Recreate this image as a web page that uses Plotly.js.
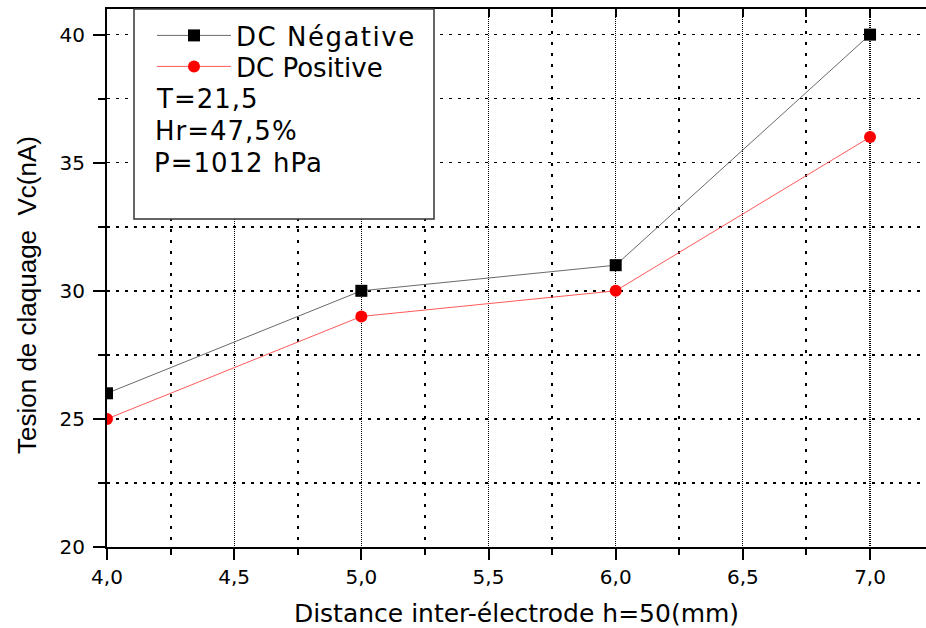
<!DOCTYPE html>
<html>
<head>
<meta charset="utf-8">
<script src="https://cdn.plot.ly/plotly-3.0.1.min.js"></script>
<style>
html,body{margin:0;padding:0;background:#fff;}
#chart{width:926px;height:628px;}
.legendtext{letter-spacing:1.5px;}
.annotation-text.cond{letter-spacing:1px;}
</style>
</head>
<body>
<div id="chart"></div>
<script>
// Data
const distance = [4.0, 5.0, 6.0, 7.0];
const dcNegative = [26, 30, 31, 40];
const dcPositive = [25, 29, 30, 36];
const seriesNames = ["DC Négative", "DC Positive"];
const conditionsText = ["T=21,5", "Hr=47,5%", "P=1012 hPa"];
const xTitle = "Distance inter-électrode h=50(mm)";
const yTitle = "Tesion de claquage  Vc(nA)";

const FONT = "DejaVu Sans";
const L = 107, T = 9, W = 926, H = 628, B = 81;
const plotW = W - L, plotH = H - T - B;
const px2x = p => (p - L) / plotW;
const py2y = p => 1 - (p - T) / plotH;

const traces = [
  {
    x: distance, y: dcNegative, name: seriesNames[0], type: "scatter", mode: "lines+markers",
    line: {color: "#6a6a6a", width: 1},
    marker: {symbol: "square", color: "#000", size: 12},
    legend: "legend"
  },
  {
    x: distance, y: dcPositive, name: seriesNames[1], type: "scatter", mode: "lines+markers",
    line: {color: "#ff5a5a", width: 1},
    marker: {symbol: "circle", color: "#ff0000", size: 12},
    legend: "legend2"
  },
  {
    x: distance, y: dcPositive, xaxis: "x2", type: "scatter", mode: "none",
    showlegend: false, hoverinfo: "skip"
  }
];

const annotations = conditionsText.map((t, i) => ({
  text: t, xref: "paper", yref: "paper",
  x: px2x(157), y: py2y(99 + i * 32), xanchor: "left", yanchor: "middle",
  showarrow: false, font: {family: FONT, size: 26, color: "#000"}
}));
annotations.push({
  text: yTitle, xref: "paper", yref: "paper", textangle: -90,
  x: px2x(27), y: py2y(295), xanchor: "center", yanchor: "middle",
  showarrow: false, font: {family: "Liberation Sans", size: 26, color: "#000"}
});

const legendBase = {
  xanchor: "left", yanchor: "top",
  bgcolor: "rgba(0,0,0,0)", borderwidth: 0,
  font: {family: FONT, size: 26, color: "#000"},
  itemwidth: 74
};

const layout = {
  width: W, height: H,
  margin: {l: L, r: 0, t: T, b: B},
  paper_bgcolor: "#fff", plot_bgcolor: "#fff",
  separators: ",.",
  font: {family: FONT, color: "#000"},
  showlegend: true,
  legend: Object.assign({x: px2x(152), y: py2y(12)}, legendBase),
  legend2: Object.assign({x: px2x(152), y: py2y(43)}, legendBase),
  xaxis: {
    range: [4, 7.22], dtick: 0.5, tick0: 4, tickformat: ".1f",
    ticks: "outside", ticklen: 11, tickwidth: 2, tickcolor: "#000",
    showline: true, linecolor: "#000", linewidth: 2,
    showgrid: true, gridcolor: "#000", gridwidth: 1.2, griddash: "1px,1px",
    zeroline: false,
    tickfont: {family: FONT, size: 20, color: "#000"},
    minor: {dtick: 0.25, ticks: "outside", ticklen: 6, tickwidth: 2, tickcolor: "#000",
            showgrid: true, gridcolor: "#000", gridwidth: 2, griddash: "3px,8px"},
    title: {text: xTitle, font: {family: FONT, size: 25, color: "#000"}, standoff: 19},
    automargin: false
  },
  xaxis2: {
    overlaying: "x", matches: "x", side: "top", anchor: "y",
    range: [4, 7.22], dtick: 0.25, tick0: 4,
    ticks: "inside", ticklen: 8, tickwidth: 2, tickcolor: "#000",
    showticklabels: false, showline: true, linecolor: "#000", linewidth: 2,
    showgrid: false, zeroline: false
  },
  yaxis: {
    range: [20, 41], dtick: 5, tick0: 20,
    ticks: "outside", ticklen: 12, tickwidth: 2, tickcolor: "#000",
    showline: true, linecolor: "#000", linewidth: 2,
    showgrid: true, gridcolor: "#000", gridwidth: 1.5, griddash: "3px,6px",
    zeroline: false,
    tickfont: {family: FONT, size: 20, color: "#000"},
    ticklabelstandoff: 4,
    minor: {dtick: 2.5, ticks: "outside", ticklen: 7, tickwidth: 2, tickcolor: "#000",
            showgrid: true, gridcolor: "#000", gridwidth: 1.5, griddash: "3px,6px"},
    automargin: false
  },
  shapes: [{
    type: "rect", xref: "paper", yref: "paper",
    x0: px2x(134), x1: px2x(434), y0: py2y(219), y1: 1,
    line: {color: "#333", width: 1.5}, fillcolor: "#fff", layer: "above"
  }],
  annotations: annotations
};

Plotly.newPlot("chart", traces, layout, {displayModeBar: false, staticPlot: true}).then(gd => {
  const items = gd.querySelectorAll(".annotation-text");
  for (let i = 0; i < conditionsText.length && i < items.length; i++) items[i].classList.add("cond");
});
</script>
</body>
</html>
